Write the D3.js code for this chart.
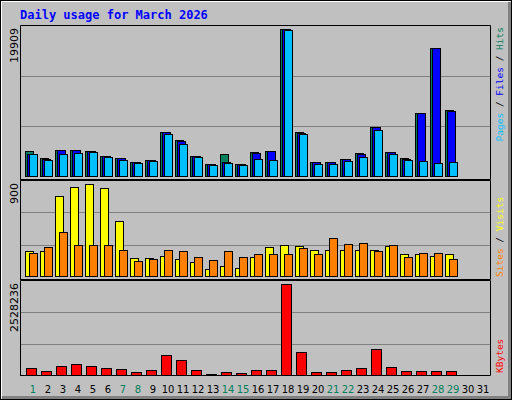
<!DOCTYPE html>
<html>
<head>
<meta charset="utf-8">
<script src="https://cdn.jsdelivr.net/npm/d3@7"></script>
<style>
  body { margin: 0; background: #fff; }
  svg { display: block; }
</style>
</head>
<body>
<svg id="chart" width="512" height="400"></svg>
<script>
const days = d3.range(1, 32);
const weekends = [1, 7, 8, 14, 15, 21, 22, 28, 29];

const hits  = [3497, 2556, 3632, 3632, 3497, 2825, 2556, 2018, 2287, 6053, 4977, 2825, 1749, 3094, 1749,
               3363, 3497, 19909, 6053, 2018, 2018, 2421, 3228, 6726, 3363, 2556, 8609, 17353, 9013];
const files = [3094, 2421, 3632, 3632, 3497, 2825, 2556, 2018, 2287, 6053, 4843, 2825, 1749, 2018, 1749,
               3228, 3497, 19850, 5918, 2018, 2018, 2421, 3094, 6726, 3363, 2421, 8609, 17353, 8878];
const pages = [3094, 2287, 3094, 3228, 3363, 2690, 2287, 1883, 2152, 5784, 4439, 2690, 1614, 1883, 1614,
               2421, 2287, 19774, 5784, 1749, 1749, 2152, 2690, 6322, 3094, 2287, 2152, 1883, 2018];
const visits = [247, 247, 783, 871, 900, 861, 539, 188, 188, 208, 179, 149, 81, 110, 91,
                198, 286, 305, 296, 257, 266, 257, 266, 266, 296, 227, 218, 208, 218];
const sites  = [237, 286, 432, 305, 305, 305, 257, 159, 179, 257, 247, 198, 169, 247, 198,
                227, 218, 227, 276, 227, 374, 315, 325, 247, 305, 198, 237, 237, 179];
const kbytes = [230675, 147632, 286037, 341399, 286037, 230675, 202994, 119951, 175313, 590528, 452123,
                175313, 64589, 119951, 92270, 175313, 175313, 2528236, 645890, 119951, 119951, 175313,
                230675, 728933, 258356, 147632, 147632, 147632, 147632];

const svg = d3.select('#chart');
const mono = 'DejaVu Sans Mono, monospace';

// frame
svg.append('rect').attr('x', 0.5).attr('y', 0.5).attr('width', 511).attr('height', 399)
  .attr('fill', '#c0c0c0').attr('stroke', '#000');
svg.append('path').attr('d', 'M1.5,398.5V1.5H510.5').attr('fill', 'none').attr('stroke', '#fff');
svg.append('path').attr('d', 'M2,397.5H509.5V2').attr('fill', 'none').attr('stroke', '#808080').attr('stroke-width', 3);

svg.append('text').attr('x', 20).attr('y', 19).text('Daily usage for March 2026')
  .attr('font-family', mono).attr('font-weight', 'bold').attr('font-size', 12).attr('fill', '#0000ff');

const x = d3.scaleLinear().domain([1, 31]).range([25, 475]);

const panels = [
  { top: 25, bottom: 180, base: 177, peak: 29, max: 19909, label: '19909', legendTop: true,
    series: [[hits, '#00805c', 0], [files, '#0000ff', 2], [pages, '#00c0ff', 4]], w: 8,
    legend: [['Pages', '#00c0ff'], [' / ', '#000'], ['Files', '#0000ff'], [' / ', '#000'], ['Hits', '#00805c']] },
  { top: 180, bottom: 280, base: 277, peak: 184, max: 900, label: '900',
    series: [[visits, '#ffff00', 0], [sites, '#ff8000', 4]], w: 8,
    legend: [['Sites', '#ff8000'], [' / ', '#000'], ['Visits', '#ffff00']] },
  { top: 280, bottom: 376, base: 376, peak: 284, max: 2528236, label: '2528236',
    series: [[kbytes, '#ff0000', 1]], w: 10,
    legend: [['KBytes', '#ff0000']] }
];

panels.forEach(p => {
  const y = d3.scaleLinear().domain([0, p.max]).range([p.base, p.peak]);
  const g = svg.append('g');
  const h = p.base - p.top;
  [1 / 3, 2 / 3].forEach(f => {
    const gy = Math.round(p.base - h * f) + 0.5;
    g.append('line').attr('x1', 21).attr('x2', 490).attr('y1', gy).attr('y2', gy).attr('stroke', '#808080');
  });
  p.series.forEach(([vals, col, off]) => {
    g.selectAll(null).data(vals).join('rect')
      .attr('x', (d, i) => x(i + 1) + off + 0.5)
      .attr('y', d => Math.round(y(d)) + 0.5)
      .attr('width', p.w)
      .attr('height', d => Math.max(0, p.base - Math.round(y(d)) - 1))
      .attr('fill', col).attr('stroke', '#000');
  });
  g.append('path').attr('d', `M20.5,${p.bottom}V${p.top + 0.5}H490.5`).attr('fill', 'none').attr('stroke', '#000');
  g.append('path').attr('d', `M490.5,${p.top + 0.5}V${p.bottom - 0.5}H20.5`).attr('fill', 'none').attr('stroke', '#000');
  g.append('text').attr('transform', `translate(18,${p.top + 3}) rotate(-90)`)
    .attr('text-anchor', 'end').attr('font-family', 'DejaVu Sans, sans-serif').attr('font-size', 11)
    .text(p.label);
  const t = g.append('text')
    .attr('transform', p.legendTop ? `translate(503,${p.top + 2}) rotate(-90)` : `translate(503,${p.bottom - 3}) rotate(-90)`)
    .attr('text-anchor', p.legendTop ? 'end' : 'start')
    .attr('font-family', mono).attr('font-size', 9.5);
  p.legend.forEach(([s, c]) => t.append('tspan').attr('fill', c).text(s));
});

svg.selectAll('.day').data(days).join('text')
  .attr('x', d => x(d) + 8).attr('y', 393)
  .attr('text-anchor', 'middle').attr('font-family', 'DejaVu Sans, sans-serif').attr('font-size', 10)
  .attr('fill', d => weekends.includes(d) ? '#00805c' : '#000')
  .text(d => d);
</script>
</body>
</html>
